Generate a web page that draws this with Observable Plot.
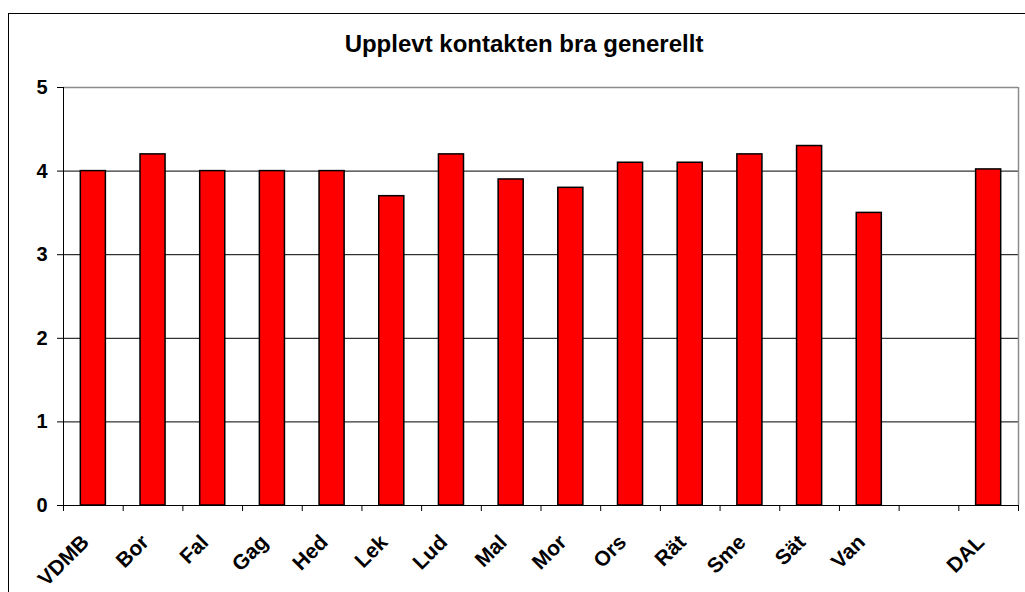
<!DOCTYPE html>
<html>
<head>
<meta charset="utf-8">
<script src="https://cdn.jsdelivr.net/npm/d3@7"></script>
<script src="https://cdn.jsdelivr.net/npm/@observablehq/plot@0.6"></script>
<style>
  body { margin: 0; background: #fff; }
  #wrap { position: relative; width: 1025px; height: 592px; overflow: hidden; background: #fff; font-family: "Liberation Sans", Arial, sans-serif; }
  #frame { position: absolute; left: 8px; top: 13px; width: 2000px; height: 2000px; border-left: 1px solid #000; border-top: 1px solid #000; }
  #title { position: absolute; left: 0; width: 1048px; top: 32px; text-align: center; font-size: 24px; line-height: 24px; font-weight: bold; color: #000; }
  #chart { position: absolute; left: 0; top: 0; }
</style>
</head>
<body>
<div id="wrap">
  <div id="frame"></div>
  <div id="chart"></div>
  <div id="title">Upplevt kontakten bra generellt</div>
</div>
<script>
const categories = ["VDMB","Bor","Fal","Gag","Hed","Lek","Lud","Mal","Mor","Ors","Rät","Sme","Sät","Van","","DAL"];
const values = [4.0, 4.2, 4.0, 4.0, 4.0, 3.7, 4.2, 3.9, 3.8, 4.1, 4.1, 4.2, 4.3, 3.5, null, 4.02];
const yTicks = [0, 1, 2, 3, 4, 5];
const gridValues = [1, 2, 3, 4];

const data = categories.map((c, i) => ({c, i, v: values[i]}));
const bars = data.filter(d => d.v != null);
const boundaries = d3.range(categories.length + 1);

const chart = Plot.plot({
  width: 1025,
  height: 592,
  marginLeft: 63,
  marginRight: 7,
  marginTop: 87,
  marginBottom: 87,
  style: {fontFamily: '"Liberation Sans", Arial, sans-serif', background: "transparent", color: "#000"},
  x: {domain: [0, categories.length]},
  y: {domain: [0, 5]},
  marks: [
    Plot.ruleY(gridValues, {stroke: "#000", strokeWidth: 1}),
    Plot.ruleY([5], {stroke: "#8c8c8c", strokeWidth: 1.5}),
    Plot.ruleX([categories.length], {y1: 0, y2: 5, stroke: "#8c8c8c", strokeWidth: 1.5}),
    Plot.rectY(bars, {x1: d => d.i + 0.29, x2: d => d.i + 0.71, y: "v", fill: "#ff0000", stroke: "#000", strokeWidth: 1.5}),
    Plot.ruleX([0], {y1: 0, y2: 5, stroke: "#000", strokeWidth: 1}),
    Plot.ruleY([0], {stroke: "#000", strokeWidth: 1}),
    Plot.axisY({ticks: yTicks, tickSize: 6, tickPadding: 10, fontSize: 20, fontWeight: "bold", tickFormat: d => String(d), label: null}),
    Plot.axisX({ticks: boundaries, tickSize: 6, tickFormat: () => "", label: null}),
    Plot.text(data, {x: d => d.i + 0.5, text: "c", frameAnchor: "bottom", rotate: -45, textAnchor: "end", dx: -3, dy: 38, fontSize: 21, fontWeight: "bold", fill: "#000"})
  ]
});
document.getElementById("chart").appendChild(chart);
</script>
</body>
</html>
